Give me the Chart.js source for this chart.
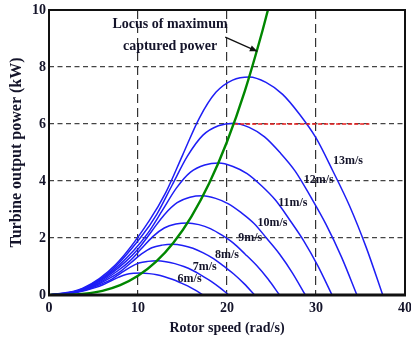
<!DOCTYPE html>
<html><head><meta charset="utf-8">
<script src="https://cdn.jsdelivr.net/npm/chart.js@4.4.1/dist/chart.umd.min.js"></script>
<style>html,body{margin:0;padding:0;background:#fff;}#wrap{width:411px;height:339px;}</style>
</head><body><div id="wrap"><canvas id="c" width="411" height="339"></canvas></div>
<script>
// ---- data ----
const xTicks = [0, 10, 20, 30, 40];
const yTicks = [0, 2, 4, 6, 8, 10];
const windSpeeds = ['13m/s', '12m/s', '11m/s', '10m/s', '9m/s', '8m/s', '7m/s', '6m/s'];

const speed13 = [0, 3.75, 7.5, 11.25, 13.13, 15.0, 16.88, 18.75, 20.63, 22.5, 24.38, 26.25, 28.13, 30.0, 31.88, 33.75, 35.63, 37.5];
const power13 = [0, 0.23, 1.07, 2.60, 3.60, 4.90, 6.20, 7.11, 7.54, 7.65, 7.46, 7.04, 6.35, 5.51, 4.36, 3.14, 1.68, 0];
const speed12 = [0, 3.46, 6.92, 10.38, 12.11, 13.84, 15.57, 17.3, 19.03, 20.76, 22.49, 24.22, 25.95, 27.68, 29.41, 31.14, 32.87, 34.6];
const power12 = [0, 0.18, 0.84, 2.05, 2.83, 3.86, 4.88, 5.61, 5.94, 6.03, 5.88, 5.55, 5.00, 4.34, 3.44, 2.47, 1.33, 0];
const speed11 = [0, 3.18, 6.36, 9.54, 11.13, 12.72, 14.31, 15.9, 17.49, 19.08, 20.67, 22.26, 23.85, 25.44, 27.03, 28.62, 30.21, 31.8];
const power11 = [0, 0.14, 0.65, 1.57, 2.18, 2.96, 3.75, 4.31, 4.56, 4.63, 4.51, 4.26, 3.84, 3.33, 2.64, 1.90, 1.02, 0];
const speed10 = [0, 2.88, 5.76, 8.64, 10.08, 11.52, 12.96, 14.4, 15.84, 17.28, 18.72, 20.16, 21.6, 23.04, 24.48, 25.92, 27.36, 28.8];
const power10 = [0, 0.10, 0.49, 1.18, 1.64, 2.23, 2.82, 3.24, 3.43, 3.48, 3.39, 3.20, 2.89, 2.51, 1.98, 1.43, 0.77, 0];
const speed9 = [0, 2.59, 5.18, 7.77, 9.07, 10.36, 11.66, 12.95, 14.25, 15.54, 16.84, 18.13, 19.43, 20.72, 22.02, 23.31, 24.61, 25.9];
const power9 = [0, 0.08, 0.35, 0.86, 1.19, 1.62, 2.05, 2.35, 2.49, 2.53, 2.47, 2.33, 2.10, 1.82, 1.44, 1.04, 0.56, 0];
const speed8 = [0, 2.31, 4.62, 6.93, 8.09, 9.24, 10.4, 11.55, 12.71, 13.86, 15.02, 16.17, 17.33, 18.48, 19.64, 20.79, 21.95, 23.1];
const power8 = [0, 0.05, 0.25, 0.61, 0.84, 1.14, 1.44, 1.66, 1.75, 1.78, 1.74, 1.64, 1.48, 1.28, 1.01, 0.73, 0.39, 0];
const speed7 = [0, 2.02, 4.04, 6.06, 7.07, 8.08, 9.09, 10.1, 11.11, 12.12, 13.13, 14.14, 15.15, 16.16, 17.17, 18.18, 19.19, 20.2];
const power7 = [0, 0.04, 0.17, 0.41, 0.56, 0.77, 0.97, 1.12, 1.18, 1.20, 1.17, 1.10, 1.00, 0.86, 0.68, 0.49, 0.26, 0];
const speed6 = [0, 1.73, 3.46, 5.19, 6.06, 6.92, 7.79, 8.65, 9.52, 10.38, 11.25, 12.11, 12.98, 13.84, 14.71, 15.57, 16.44, 17.3];
const power6 = [0, 0.02, 0.11, 0.26, 0.36, 0.49, 0.62, 0.72, 0.76, 0.77, 0.75, 0.71, 0.64, 0.55, 0.44, 0.32, 0.17, 0];

const locusSpeed = [0, 2, 4, 6, 8, 10, 12, 14, 16, 18, 20, 22, 24, 24.6];
const locusPower = [0, 0.005, 0.043, 0.145, 0.344, 0.672, 1.161, 1.844, 2.753, 3.919, 5.376, 7.155, 9.290, 10.0];

const ratedSpeed = [20.8, 36.0];
const ratedPower = [6, 6];

// ---- layout / style (not data) ----
const SERIF = "'Liberation Serif', 'Times New Roman', serif";
const TXT = '#14142a';
const labelPlacement = [
  {x: 33.6, y: 4.70}, {x: 30.3, y: 4.04}, {x: 27.4, y: 3.23}, {x: 25.1, y: 2.53},
  {x: 22.6, y: 2.00}, {x: 20.0, y: 1.40}, {x: 17.5, y: 0.98}, {x: 15.8, y: 0.56}
];
const locusText = [{t: 'Locus of maximum', x: 13.6, y: 9.5}, {t: 'captured power', x: 13.6, y: 8.74}];
const arrowFrom = {x: 19.8, y: 9.05}, arrowTo = {x: 23.4, y: 8.55};

function pts(xs, ys) { return xs.map((x, i) => ({x: x, y: ys[i]})); }

const blueSets = [
  [speed13, power13], [speed12, power12], [speed11, power11], [speed10, power10],
  [speed9, power9], [speed8, power8], [speed7, power7], [speed6, power6]
].map((p, i) => ({
  label: windSpeeds[i], data: pts(p[0], p[1]),
  borderColor: 'rgb(30,30,245)', borderWidth: 1.5, pointRadius: 0,
  cubicInterpolationMode: 'monotone', fill: false
}));

const datasets = [
  {label: 'Locus', data: pts(locusSpeed, locusPower), borderColor: 'rgb(0,135,0)', borderWidth: 2.4,
   pointRadius: 0, cubicInterpolationMode: 'monotone', fill: false},
  {label: 'Rated', data: pts(ratedSpeed, ratedPower), borderColor: 'rgb(235,30,30)', borderWidth: 1.6,
   borderDash: [4, 2], pointRadius: 0, fill: false}
].concat(blueSets);

const overlay = {
  id: 'overlay',
  afterDatasetsDraw(chart) {
    const {ctx, chartArea: a, scales: {x, y}} = chart;
    ctx.save();
    ctx.strokeStyle = '#111';
    ctx.lineWidth = 2;
    ctx.strokeRect(a.left, a.top, a.right - a.left, a.bottom - a.top);
    ctx.lineWidth = 3;
    ctx.beginPath(); ctx.moveTo(a.left - 1, a.bottom); ctx.lineTo(a.right + 1, a.bottom); ctx.stroke();
    ctx.fillStyle = TXT;
    ctx.font = 'bold 12px ' + SERIF;
    ctx.textAlign = 'center'; ctx.textBaseline = 'middle';
    windSpeeds.forEach((s, i) => {
      ctx.fillText(s, x.getPixelForValue(labelPlacement[i].x), y.getPixelForValue(labelPlacement[i].y));
    });
    ctx.font = 'bold 14px ' + SERIF;
    locusText.forEach(l => ctx.fillText(l.t, x.getPixelForValue(l.x), y.getPixelForValue(l.y)));
    const x1 = x.getPixelForValue(arrowFrom.x), y1 = y.getPixelForValue(arrowFrom.y);
    const x2 = x.getPixelForValue(arrowTo.x), y2 = y.getPixelForValue(arrowTo.y);
    ctx.strokeStyle = '#111'; ctx.lineWidth = 1.3;
    ctx.beginPath(); ctx.moveTo(x1, y1); ctx.lineTo(x2, y2); ctx.stroke();
    const ang = Math.atan2(y2 - y1, x2 - x1), L = 8, W = 0.4;
    ctx.fillStyle = '#111';
    ctx.beginPath(); ctx.moveTo(x2, y2);
    ctx.lineTo(x2 - L * Math.cos(ang - W), y2 - L * Math.sin(ang - W));
    ctx.lineTo(x2 - L * Math.cos(ang + W), y2 - L * Math.sin(ang + W));
    ctx.closePath(); ctx.fill();
    ctx.restore();
  }
};

new Chart(document.getElementById('c'), {
  type: 'line',
  data: {datasets: datasets},
  plugins: [overlay],
  options: {
    responsive: false, animation: false, devicePixelRatio: 1,
    layout: {padding: {left: 0, right: 6, top: 10, bottom: 0}},
    plugins: {legend: {display: false}, tooltip: {enabled: false}},
    scales: {
      x: {
        type: 'linear', min: 0, max: 40,
        afterBuildTicks: s => { s.ticks = xTicks.map(v => ({value: v})); },
        afterFit: s => { s.height = 44; s.paddingLeft = 0; s.paddingRight = 0; },
        ticks: {color: TXT, font: {family: SERIF, size: 14, weight: 'bold'}, padding: 5, maxRotation: 0},
        grid: {drawTicks: false, lineWidth: 1.2,
          color: c => (c.tick && (c.tick.value === 0 || c.tick.value === 40)) ? 'rgba(0,0,0,0)' : '#333'},
        border: {display: false, dash: [9, 5]},
        title: {display: true, text: 'Rotor speed (rad/s)', color: TXT,
          font: {family: SERIF, size: 14, weight: 'bold'}, padding: {top: 0, bottom: 2}}
      },
      y: {
        type: 'linear', min: 0, max: 10,
        afterBuildTicks: s => { s.ticks = yTicks.map(v => ({value: v})); },
        afterFit: s => { s.width = 49; s.paddingTop = 0; s.paddingBottom = 0; },
        ticks: {color: TXT, font: {family: SERIF, size: 14, weight: 'bold'}, padding: 3},
        grid: {drawTicks: false, lineWidth: 1.2,
          color: c => (c.tick && (c.tick.value === 0 || c.tick.value === 10)) ? 'rgba(0,0,0,0)' : '#444'},
        border: {display: false, dash: [5, 3.5]},
        title: {display: true, text: 'Turbine output power (kW)', color: TXT,
          font: {family: SERIF, size: 16, weight: 'bold'}, padding: {top: 7, bottom: 0}}
      }
    }
  }
});
</script></body></html>
